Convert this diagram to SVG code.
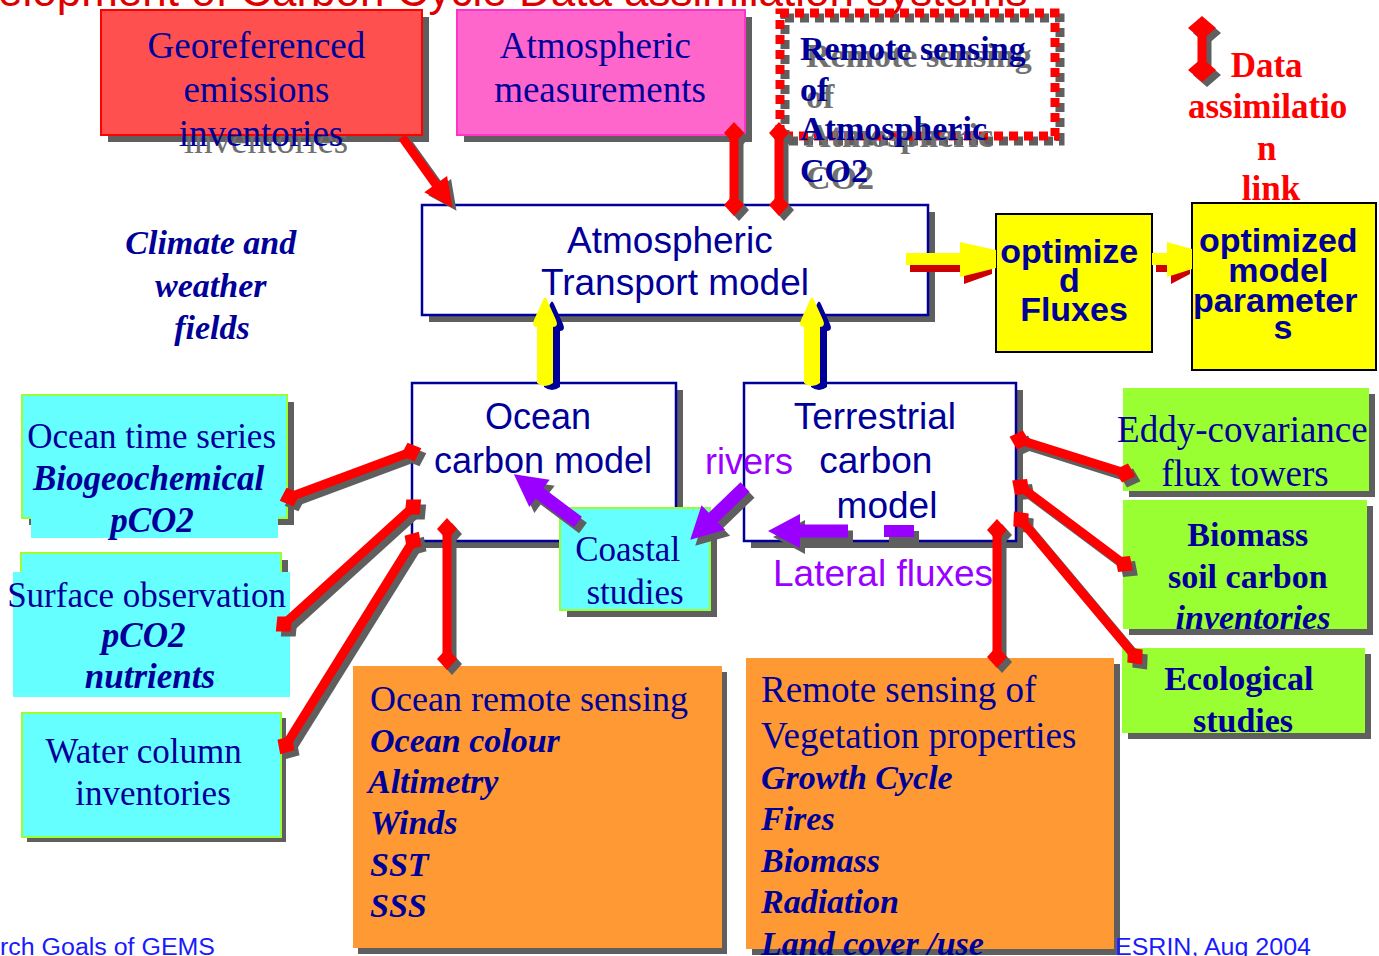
<svg xmlns="http://www.w3.org/2000/svg" xmlns:xlink="http://www.w3.org/1999/xlink" width="1379" height="956" viewBox="0 0 1379 956">
<style>
.serif{font-family:"Liberation Serif","Times New Roman",serif}
.sans{font-family:"Liberation Sans",Arial,sans-serif}
.nv{fill:#000099}
.b{font-weight:bold}
.bi{font-weight:bold;font-style:italic}
.mid{text-anchor:middle}
.shadow{fill:#5f5f5f}
.tshadow{fill:#707070}
.cyan{fill:#66ffff;stroke:#99ff33;stroke-width:2}
.cyanbg{fill:#66ffff}
.green{fill:#99ff33}
.orange{fill:#ff9933}
.model{fill:#ffffff;stroke:#000099;stroke-width:2.5}
.ybox{fill:#ffff00;stroke:#000000;stroke-width:2}
.linkShadow{fill:none;stroke:#5f5f5f;stroke-width:9;marker-start:url(#dG);marker-end:url(#dG)}
.linkRed{fill:none;stroke:#ff0000;stroke-width:9;marker-start:url(#dR);marker-end:url(#dR)}
.legShadow{fill:none;stroke:#5f5f5f;stroke-width:9;marker-start:url(#dGb);marker-end:url(#dGb)}
.legRed{fill:none;stroke:#ff0000;stroke-width:9;marker-start:url(#dRb);marker-end:url(#dRb)}
.dots{fill:none;stroke-width:9;stroke-dasharray:9 6}
.purple{fill:#9900ff}
.yellow{fill:#ffff00}
</style>
<defs>
  <marker id="dR" viewBox="-13 -13 26 26" markerWidth="26" markerHeight="26" markerUnits="userSpaceOnUse" orient="auto" overflow="visible">
    <path d="M-11,0 L0,-10 L11,0 L0,10 Z" fill="#ff0000"/>
  </marker>
  <marker id="dG" viewBox="-13 -13 26 26" markerWidth="26" markerHeight="26" markerUnits="userSpaceOnUse" orient="auto" overflow="visible">
    <path d="M-11,0 L0,-10 L11,0 L0,10 Z" fill="#5f5f5f"/>
  </marker>
  <marker id="dRb" viewBox="-16 -16 32 32" markerWidth="32" markerHeight="32" markerUnits="userSpaceOnUse" orient="auto" overflow="visible">
    <path d="M-12,0 L0,-14 L12,0 L0,14 Z" fill="#ff0000"/>
  </marker>
  <marker id="dGb" viewBox="-16 -16 32 32" markerWidth="32" markerHeight="32" markerUnits="userSpaceOnUse" orient="auto" overflow="visible">
    <path d="M-12,0 L0,-14 L12,0 L0,14 Z" fill="#5f5f5f"/>
  </marker>
  <!-- generic thick arrow pointing along +x, tail at origin -->
  <path id="purpleArrow76" d="M0,-6.5 L44,-6.5 L44,-17 L76,0 L44,17 L44,6.5 L0,6.5 Z"/>
  <path id="purpleArrow80" d="M0,-6.5 L48,-6.5 L48,-17 L80,0 L48,17 L48,6.5 L0,6.5 Z"/>
</defs>

<!-- title line, clipped by the top edge -->
<text class="sans" x="-2" y="6" font-size="44" fill="#dd0000">elopment of Carbon Cycle Data assimilation systems</text>

<!-- emissions inventories -->
<g id="node-emissions">
  <rect class="shadow" x="108" y="17" width="321" height="125"/>
  <text class="serif tshadow mid" x="266" y="153" font-size="37">inventories</text>
  <rect x="101" y="10" width="321" height="125" fill="#ff5050" stroke="#ff0000" stroke-width="2"/>
  <text class="serif nv mid" font-size="37">
    <tspan x="261" y="58">Georeferenced</tspan>
    <tspan x="261" y="102">emissions</tspan>
    <tspan x="261" y="146">inventories</tspan>
  </text>
</g>

<!-- atmospheric measurements -->
<g id="node-atm-measurements">
  <rect class="shadow" x="464" y="17" width="288" height="125"/>
  <rect x="457" y="10" width="288" height="125" fill="#ff66cc" stroke="#ff33cc" stroke-width="2"/>
  <text class="serif nv mid" font-size="37">
    <tspan x="600" y="58">Atmospheric</tspan>
    <tspan x="600" y="102">measurements</tspan>
  </text>
</g>

<!-- remote sensing of atmospheric CO2 (dotted frame) -->
<g id="node-remote-co2">
  <rect class="dots" x="785" y="18" width="275" height="123" stroke="#5f5f5f"/>
  <rect class="dots" x="780" y="13" width="275" height="123" stroke="#ff0000"/>
  <text class="serif b tshadow" font-size="34">
    <tspan x="806" y="67">Remote sensing</tspan>
    <tspan x="806" y="108">of</tspan>
    <tspan x="806" y="147">Atmospheric</tspan>
    <tspan x="806" y="189">CO2</tspan>
  </text>
  <text class="serif b nv" font-size="34">
    <tspan x="800" y="60">Remote sensing</tspan>
    <tspan x="800" y="101">of</tspan>
    <tspan x="800" y="140">Atmospheric</tspan>
    <tspan x="800" y="182">CO2</tspan>
  </text>
</g>

<!-- legend: data assimilation link -->
<g id="legend-assimilation">
  <line class="legShadow" x1="1207" y1="33" x2="1207" y2="75"/>
  <line class="legRed" x1="1202" y1="28" x2="1202" y2="70"/>
  <text class="serif b mid" font-size="35" fill="#ff0000">
    <tspan x="1271" y="77">Data</tspan>
    <tspan x="1272" y="118">assimilatio</tspan>
    <tspan x="1271" y="160">n</tspan>
    <tspan x="1271" y="200">link</tspan>
  </text>
</g>

<!-- climate and weather fields -->
<g id="node-climate">
  <text class="serif bi nv mid" font-size="34">
    <tspan x="215" y="254">Climate and</tspan>
    <tspan x="215" y="297">weather</tspan>
    <tspan x="212" y="339">fields</tspan>
  </text>
</g>

<!-- atmospheric transport model -->
<g id="node-transport">
  <rect class="shadow" x="429" y="212" width="506" height="110"/>
  <rect class="model" x="422" y="205" width="506" height="110"/>
  <text class="sans nv mid" font-size="37">
    <tspan x="675" y="253">Atmospheric</tspan>
    <tspan x="675" y="295">Transport model</tspan>
  </text>
</g>

<!-- optimized fluxes -->
<g id="node-opt-fluxes">
  <rect class="ybox" x="996" y="214" width="156" height="138"/>
  <text class="sans b nv mid" font-size="34">
    <tspan x="1074" y="263">optimize</tspan>
    <tspan x="1074" y="292">d</tspan>
    <tspan x="1074" y="321">Fluxes</tspan>
  </text>
</g>

<!-- optimized model parameters -->
<g id="node-opt-params">
  <rect class="ybox" x="1192" y="203" width="184" height="167"/>
  <text class="sans b nv mid" font-size="34">
    <tspan x="1283" y="252">optimized</tspan>
    <tspan x="1283" y="282">model</tspan>
    <tspan x="1280" y="312">parameter</tspan>
    <tspan x="1283" y="339">s</tspan>
  </text>
</g>

<!-- ocean carbon model -->
<g id="node-ocean-model">
  <rect class="shadow" x="419" y="390" width="264" height="158"/>
  <rect class="model" x="412" y="383" width="264" height="158"/>
  <text class="sans nv mid" font-size="36">
    <tspan x="543" y="429">Ocean</tspan>
    <tspan x="543" y="473">carbon model</tspan>
  </text>
</g>

<!-- terrestrial carbon model -->
<g id="node-terrestrial-model">
  <rect class="shadow" x="751" y="390" width="272" height="158"/>
  <rect class="model" x="744" y="383" width="272" height="158"/>
  <text class="sans nv mid" font-size="37">
    <tspan x="880" y="429">Terrestrial</tspan>
    <tspan x="881" y="473">carbon</tspan>
    <tspan x="887" y="518">model</tspan>
  </text>
</g>

<!-- coastal studies -->
<g id="node-coastal">
  <rect class="shadow" x="567" y="515" width="150" height="102"/>
  <rect class="cyan" x="560" y="508" width="150" height="102"/>
  <text class="serif nv mid" font-size="35">
    <tspan x="632" y="561">Coastal</tspan>
    <tspan x="635" y="604">studies</tspan>
  </text>
</g>

<!-- ocean time series -->
<g id="node-ocean-timeseries">
  <rect class="shadow" x="29" y="402" width="265" height="123"/>
  <rect class="cyan" x="22" y="395" width="265" height="123"/>
  <rect class="cyanbg" x="31" y="517" width="247" height="21"/>
  <text class="serif nv mid" font-size="35">
    <tspan x="156" y="448">Ocean time series</tspan>
    <tspan class="bi" x="153" y="490">Biogeochemical</tspan>
    <tspan class="bi" x="152" y="532">pCO2</tspan>
  </text>
</g>

<!-- surface observation -->
<g id="node-surface-obs">
  <rect class="shadow" x="28" y="560" width="260" height="130"/>
  <rect class="cyan" x="21" y="553" width="260" height="130"/>
  <rect class="cyanbg" x="13" y="572" width="277" height="125"/>
  <text class="serif nv mid" font-size="35">
    <tspan x="151" y="607">Surface observation</tspan>
    <tspan class="bi" x="148" y="647">pCO2</tspan>
    <tspan class="bi" x="150" y="688">nutrients</tspan>
  </text>
</g>

<!-- water column inventories -->
<g id="node-water-column">
  <rect class="shadow" x="27" y="718" width="259" height="124"/>
  <rect class="cyan" x="22" y="713" width="259" height="124"/>
  <text class="serif nv mid" font-size="35">
    <tspan x="148" y="763">Water column</tspan>
    <tspan x="153" y="805">inventories</tspan>
  </text>
</g>

<!-- ocean remote sensing -->
<g id="node-ocean-rs">
  <rect class="shadow" x="358" y="672" width="369" height="282"/>
  <rect class="orange" x="353" y="666" width="369" height="282"/>
  <text class="serif nv" font-size="36">
    <tspan x="370" y="711">Ocean remote sensing</tspan>
  </text>
  <text class="serif bi nv" font-size="34">
    <tspan x="370" y="752">Ocean colour</tspan>
    <tspan x="368" y="793">Altimetry</tspan>
    <tspan x="370" y="834">Winds</tspan>
    <tspan x="370" y="876">SST</tspan>
    <tspan x="370" y="917">SSS</tspan>
  </text>
</g>

<!-- remote sensing of vegetation -->
<g id="node-vegetation-rs">
  <rect class="shadow" x="752" y="664" width="368" height="291"/>
  <rect class="orange" x="746" y="658" width="368" height="291"/>
  <text class="serif nv" font-size="37">
    <tspan x="761" y="702">Remote sensing of</tspan>
    <tspan x="761" y="748">Vegetation properties</tspan>
  </text>
  <text class="serif bi nv" font-size="34">
    <tspan x="761" y="789">Growth Cycle</tspan>
    <tspan x="761" y="830">Fires</tspan>
    <tspan x="761" y="872">Biomass</tspan>
    <tspan x="761" y="913">Radiation</tspan>
    <tspan x="761" y="955">Land cover /use</tspan>
  </text>
</g>

<!-- eddy covariance -->
<g id="node-eddy">
  <rect class="shadow" x="1129" y="394" width="246" height="103"/>
  <rect class="green" x="1123" y="388" width="246" height="103"/>
  <text class="serif nv mid" font-size="37">
    <tspan x="1247" y="442">Eddy-covariance</tspan>
    <tspan x="1245" y="486">flux towers</tspan>
  </text>
</g>

<!-- biomass soil carbon inventories -->
<g id="node-biomass">
  <rect class="shadow" x="1129" y="506" width="244" height="129"/>
  <rect class="green" x="1123" y="500" width="244" height="129"/>
  <text class="serif b nv mid" font-size="34">
    <tspan x="1252" y="546">Biomass</tspan>
    <tspan x="1252" y="588">soil carbon</tspan>
    <tspan class="bi" x="1253" y="629">inventories</tspan>
  </text>
</g>

<!-- ecological studies -->
<g id="node-ecological">
  <rect class="shadow" x="1128" y="654" width="243" height="85"/>
  <rect class="green" x="1122" y="648" width="243" height="85"/>
  <text class="serif b nv mid" font-size="34">
    <tspan x="1243" y="690">Ecological</tspan>
    <tspan x="1243" y="732">studies</tspan>
  </text>
</g>

<!-- all links and flow arrows -->
<g id="connectors">
  <use xlink:href="#linkSet" href="#linkSet" class="linkShadow" transform="translate(5,5)"/>
  <g class="linkRed">
    <g id="linkSet">
      <line x1="290" y1="497" x2="411" y2="452"/>
      <line x1="284" y1="624" x2="413" y2="507"/>
      <line x1="286" y1="745" x2="413" y2="541"/>
      <line x1="447" y1="529" x2="447" y2="659"/>
      <line x1="997" y1="530" x2="997" y2="657"/>
      <line x1="1020" y1="440" x2="1125" y2="473"/>
      <line x1="1021" y1="487" x2="1124" y2="564"/>
      <line x1="1021" y1="520" x2="1135" y2="656"/>
      <line x1="734" y1="133" x2="734" y2="205"/>
      <line x1="779" y1="133" x2="779" y2="205"/>
    </g>
  </g>

  <!-- emissions feed into transport -->
  <path class="shadow" transform="translate(406,140) rotate(54.5)" d="M0,-4.5 L58,-4.5 L58,-14 L87,0 L58,14 L58,4.5 L0,4.5 Z"/>
  <path fill="#ff0000" transform="translate(402,137) rotate(54.5)" d="M0,-4.5 L58,-4.5 L58,-14 L87,0 L58,14 L58,4.5 L0,4.5 Z"/>

  <!-- transport to optimized fluxes to parameters -->
  <path fill="#cc0000" d="M910,260 L964,260 L964,249 L992,255 L992,274 L964,284 L964,272 L910,272 Z"/>
  <path class="yellow" d="M906,253 L960,253 L960,242 L996,250 L996,268 L960,277 L960,265 L906,265 Z"/>
  <path fill="#cc0000" d="M1156,260 L1171,260 L1171,249 L1190,254 L1190,274 L1171,284 L1171,272 L1156,272 Z"/>
  <path class="yellow" d="M1152,253 L1167,253 L1167,242 L1192,249 L1192,269 L1167,277 L1167,265 L1152,265 Z"/>

  <!-- model fluxes up into transport -->
  <g transform="translate(7,4)" fill="#000099">
    <path d="M537,383 L537,327 Q531,327 534,320 L543,300 Q545,295 547,300 L556,320 Q559,327 553,327 L553,383 Q545,389 537,383 Z"/>
    <path d="M804,383 L804,327 Q798,327 801,320 L810,300 Q812,295 814,300 L823,320 Q826,327 820,327 L820,383 Q812,389 804,383 Z"/>
  </g>
  <g class="yellow">
    <path d="M537,383 L537,327 Q531,327 534,320 L543,300 Q545,295 547,300 L556,320 Q559,327 553,327 L553,383 Q545,389 537,383 Z"/>
    <path d="M804,383 L804,327 Q798,327 801,320 L810,300 Q812,295 814,300 L823,320 Q826,327 820,327 L820,383 Q812,389 804,383 Z"/>
  </g>

  <!-- lateral carbon transport -->
  <g class="shadow" transform="translate(5,6)">
    <use xlink:href="#purpleArrow80" href="#purpleArrow80" transform="translate(578,522) rotate(216.7)"/>
    <use xlink:href="#purpleArrow76" href="#purpleArrow76" transform="translate(745,487) rotate(136.1)"/>
    <use xlink:href="#purpleArrow80" href="#purpleArrow80" transform="translate(848,531) rotate(180)"/>
    <rect x="884" y="525" width="30" height="12"/>
  </g>
  <g class="purple">
    <use xlink:href="#purpleArrow80" href="#purpleArrow80" transform="translate(578,522) rotate(216.7)"/>
    <use xlink:href="#purpleArrow76" href="#purpleArrow76" transform="translate(745,487) rotate(136.1)"/>
    <use xlink:href="#purpleArrow80" href="#purpleArrow80" transform="translate(848,531) rotate(180)"/>
    <rect x="884" y="525" width="30" height="12"/>
  </g>
</g>

<!-- flux labels -->
<g id="flux-labels">
  <text class="sans purple" x="705" y="474" font-size="36">rivers</text>
  <text class="sans purple" x="773" y="586" font-size="37">Lateral fluxes</text>
</g>

<!-- footer -->
<g id="footer">
  <text class="sans" x="0" y="955" font-size="23" fill="#1a1aff" textLength="215" lengthAdjust="spacingAndGlyphs">rch Goals of GEMS</text>
  <text class="sans" x="1115" y="955" font-size="23" fill="#1a1aff" textLength="196" lengthAdjust="spacingAndGlyphs">ESRIN, Aug 2004</text>
</g>
</svg>
